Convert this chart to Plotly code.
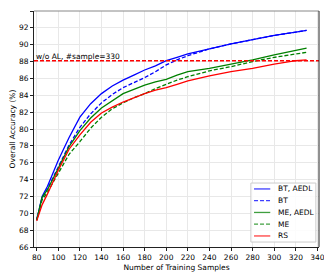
import plotly.graph_objects as go

samples = [80, 85, 90, 100, 110, 120, 130, 140, 150, 160, 170, 180, 190, 200, 210, 220, 240, 260, 280, 300, 320, 330]

bt_aedl = [69.2, 72.0, 73.2, 76.3, 79.0, 81.4, 83.0, 84.2, 85.1, 85.8, 86.4, 87.0, 87.5, 88.1, 88.5, 88.9, 89.5, 90.1, 90.6, 91.1, 91.5, 91.7]
bt      = [69.2, 71.8, 72.9, 75.6, 78.1, 80.2, 81.8, 83.1, 84.1, 84.9, 85.5, 86.1, 86.8, 87.6, 88.2, 88.7, 89.5, 90.1, 90.6, 91.1, 91.5, 91.7]
me_aedl = [69.2, 71.9, 72.8, 75.3, 77.9, 79.8, 81.3, 82.5, 83.4, 84.2, 84.7, 85.2, 85.6, 85.9, 86.4, 86.8, 87.2, 87.7, 88.2, 88.8, 89.3, 89.6]
me      = [69.2, 71.6, 72.5, 74.8, 77.0, 78.5, 80.1, 81.4, 82.4, 83.1, 83.7, 84.2, 84.8, 85.3, 85.8, 86.2, 86.9, 87.4, 88.0, 88.5, 88.9, 89.1]
rs      = [69.1, 71.0, 72.3, 75.1, 77.6, 79.3, 80.8, 81.9, 82.6, 83.2, 83.7, 84.2, 84.6, 84.9, 85.3, 85.7, 86.3, 86.8, 87.2, 87.7, 88.1, 88.2]

baseline = 88.1
baseline_label = "w/o AL, #sample=330"

x_ticks = list(range(80, 341, 20))
y_ticks = list(range(66, 95, 2))

series_names = ["BT, AEDL", "BT", "ME, AEDL", "ME", "RS"]
series_values = [bt_aedl, bt, me_aedl, me, rs]
series_colors = ["#0000ff", "#0000ff", "#008000", "#008000", "#ff0000"]
series_dash = ["solid", "4px,2px", "solid", "4px,2px", "solid"]

font = "DejaVu Sans"
fs = 7.5
fig = go.Figure()
for name, vals, color, dash in zip(series_names, series_values, series_colors, series_dash):
    fig.add_trace(go.Scatter(x=samples, y=vals, name=name, mode="lines", showlegend=False,
                             line=dict(color=color, width=1.3, dash=dash)))

fig.add_shape(type="line", xref="paper", x0=0, x1=1, yref="y", y0=baseline, y1=baseline,
              line=dict(color="#ff0000", width=1.3, dash="4px,2px"))
fig.add_annotation(x=samples[0], y=baseline, xref="x", yref="y", text=baseline_label,
                   showarrow=False, xanchor="left", yanchor="bottom", xshift=-3, yshift=-2,
                   font=dict(family=font, size=fs, color="#000"))

axis_common = dict(showgrid=True, gridcolor="#e8e8e8", gridwidth=1, zeroline=False,
                   showline=True, linecolor="#222", linewidth=1, mirror=False,
                   ticks="outside", ticklen=3, tickcolor="#222", tickwidth=1, automargin=False,
                   tickfont=dict(family=font, size=fs, color="#000"))

fig.update_xaxes(range=[77.5, 341.5], tickvals=x_ticks,
                 title=dict(text="Number of Training Samples", font=dict(family=font, size=fs, color="#000"), standoff=3),
                 **axis_common)
fig.update_yaxes(range=[66, 94], tickvals=y_ticks,
                 title=dict(text="Overall Accuracy (%)", font=dict(family=font, size=fs, color="#000")),
                 **axis_common)

# top and right frame
fig.add_shape(type="line", xref="paper", yref="paper", x0=0, x1=1, y0=1, y1=1, line=dict(color="#888", width=1))
fig.add_shape(type="line", xref="paper", yref="paper", x0=1, x1=1, y0=0, y1=1, line=dict(color="#222", width=1))

# legend box (matplotlib-style)
lx0, lx1, ly0, ly1 = 0.761, 0.989, 0.021, 0.271
fig.add_shape(type="rect", xref="paper", yref="paper", x0=lx0, x1=lx1, y0=ly0, y1=ly1,
              line=dict(color="#cccccc", width=1), fillcolor="rgba(255,255,255,0.85)", layer="above")
row_top, row_step = 0.246, 0.0498
for i, (name, color, dash) in enumerate(zip(series_names, series_colors, series_dash)):
    yy = row_top - i * row_step
    fig.add_shape(type="line", xref="paper", yref="paper", x0=0.772, x1=0.829, y0=yy, y1=yy,
                  line=dict(color=color, width=1.3, dash=dash), layer="above", opacity=0.75)
    fig.add_annotation(x=0.849, y=yy, xref="paper", yref="paper", text=name, showarrow=False,
                       xanchor="left", yanchor="middle", font=dict(family=font, size=fs, color="#000"))

# page body has an 8px margin, so the figure is sized/margined to compensate
fig.update_layout(
    width=324, height=269,
    margin=dict(l=26, r=13, t=3, b=30),
    plot_bgcolor="white", paper_bgcolor="white",
    font=dict(family=font, size=fs, color="#000"),
    showlegend=False,
)

fig.write_html("out.html")
